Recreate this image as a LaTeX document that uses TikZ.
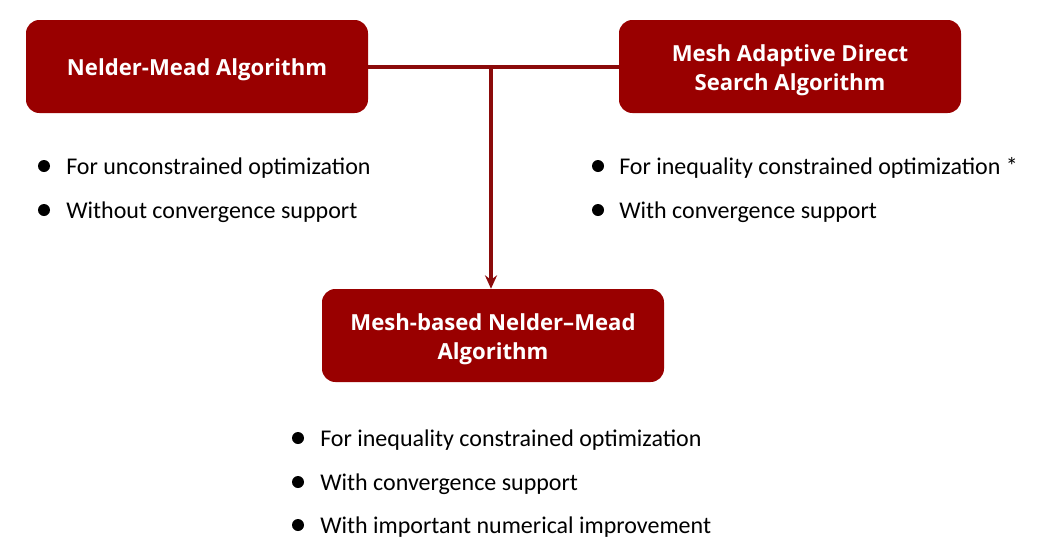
\documentclass[tikz,border=0pt]{standalone}
\usepackage{fontspec}
\usetikzlibrary{arrows.meta}
\setmainfont{Carlito}
\newfontfamily\boxfont{Open Sans}
\definecolor{boxred}{HTML}{990000}
\definecolor{linered}{HTML}{8B0A0A}
\newcommand{\boxtxt}[1]{\raisebox{-2.6pt}[\height][\depth]{\begin{tabular}{@{}c@{}}#1\end{tabular}}}
\begin{document}
\begin{tikzpicture}[x=0.75pt,y=-0.75pt,
  algbox/.style={fill=boxred, rounded corners=10pt, minimum width=256.5pt, minimum height=69.75pt,
     inner sep=0pt, text=white, align=center, font=\boxfont\bfseries\fontsize{16.6}{21.75}\selectfont},
  item/.style={anchor=base west, inner sep=0pt, font=\fontsize{18}{20}\selectfont},
  conn/.style={draw=linered, line width=2.3pt},
  bul/.style={fill=black}]
\useasboundingbox (0,0) rectangle (1040,554);
\node[algbox] (nm) at (197,66.5) {\boxtxt{Nelder-Mead Algorithm}};
\node[algbox] (mads) at (790,66.5) {\boxtxt{Mesh Adaptive Direct\\Search Algorithm}};
\node[algbox] (mbnm) at (493,335.5) {\boxtxt{Mesh-based Nelder–Mead\\Algorithm}};
\coordinate (j) at (491,67);
\draw[conn] (nm.east |- j) -- (mads.west |- j);
\draw[conn,-{Stealth[length=10pt,width=9pt]}] (j) -- (j |- mbnm.north);
% left bullets
\fill[bul] (44,166) circle (6);
\node[item] (l1) at (66,174) {For unconstrained optimization};
\fill[bul] (44,210) circle (6);
\node[item] (l2) at (66,218) {Without convergence support};
% right bullets
\fill[bul] (598,166) circle (6);
\node[item] (r1) at (619,174) {For inequality constrained optimization *};
\fill[bul] (598,210) circle (6);
\node[item] (r2) at (619,218) {With convergence support};
% bottom bullets
\fill[bul] (298,438) circle (6);
\node[item] (b1) at (320,446) {For inequality constrained optimization};
\fill[bul] (298,482) circle (6);
\node[item] (b2) at (320,490) {With convergence support};
\fill[bul] (298,525) circle (6);
\node[item] (b3) at (320,533) {With important numerical improvement};
\end{tikzpicture}
\end{document}
